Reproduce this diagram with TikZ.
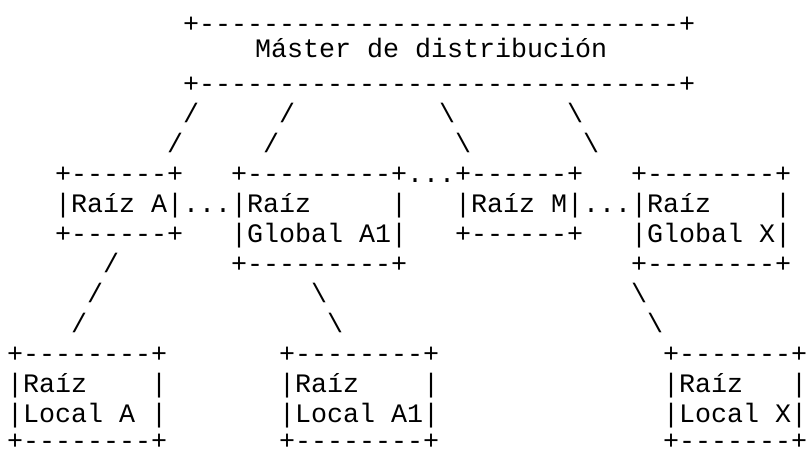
\documentclass[tikz,border=0pt]{standalone}
\usepackage{fontspec}
\newfontfamily\asciimono{Liberation Mono}[Ligatures=TeXOff]
\tikzset{asc/.style={anchor=base west, inner sep=0pt, outer sep=0pt,
  font=\asciimono\fontsize{26.67}{30}\selectfont, text=black},
  ascedge/.style={asc, text depth=0pt}}
% #1 name, #2 column, #3 row, #4 text
\newcommand\ascseg[4]{\node[asc] (#1) at ({7+16*#2},{-(32.5+30*(#3-1))}) {#4};}
\newcommand\ascbottom[3]{\node[ascedge] (#1) at ({7+16*#2},-449.5) {#3};}
\newcommand\bs{\textbackslash}
\begin{document}
\begin{tikzpicture}[x=1pt,y=1pt]
\fill[white] (0,0) rectangle (808,-450);
\useasboundingbox (0,0) rectangle (808,-450);
% master box
\ascseg{mtop}{11}{1}{+------------------------------+}
\node[asc] (mtext) at (255,-57) {Máster de distribución};
\ascseg{mbot}{11}{3}{+------------------------------+}
% links from master
\ascseg{la1}{11}{4}{/}
\ascseg{lb1}{17}{4}{/}
\ascseg{lc1}{27}{4}{\bs}
\ascseg{ld1}{35}{4}{\bs}
\ascseg{la2}{10}{5}{/}
\ascseg{lb2}{16}{5}{/}
\ascseg{lc2}{28}{5}{\bs}
\ascseg{ld2}{36}{5}{\bs}
% root row
\ascseg{r6a}{3}{6}{+------+}
\ascseg{r6b}{14}{6}{+---------+...+------+}
\ascseg{r6c}{39}{6}{+--------+}
\ascseg{r7a}{3}{7}{|Raíz~A|...|Raíz~~~~~|}
\ascseg{r7b}{28}{7}{|Raíz~M|...|Raíz~~~~|}
\ascseg{r8a}{3}{8}{+------+}
\ascseg{r8b}{14}{8}{|Global~A1|}
\ascseg{r8c}{28}{8}{+------+}
\ascseg{r8d}{39}{8}{|Global~X|}
\ascseg{r9a}{6}{9}{/}
\ascseg{r9b}{14}{9}{+---------+}
\ascseg{r9c}{39}{9}{+--------+}
% links to local roots
\ascseg{r10a}{5}{10}{/}
\ascseg{r10b}{19}{10}{\bs}
\ascseg{r10c}{39}{10}{\bs}
\ascseg{r11a}{4}{11}{/}
\ascseg{r11b}{20}{11}{\bs}
\ascseg{r11c}{40}{11}{\bs}
% local roots
\ascseg{b12a}{0}{12}{+--------+}
\ascseg{b12b}{17}{12}{+--------+}
\ascseg{b12c}{41}{12}{+-------+}
\ascseg{b13a}{0}{13}{|Raíz~~~~|}
\ascseg{b13b}{17}{13}{|Raíz~~~~|}
\ascseg{b13c}{41}{13}{|Raíz~~~|}
\ascseg{b14a}{0}{14}{|Local~A~|}
\ascseg{b14b}{17}{14}{|Local~A1|}
\ascseg{b14c}{41}{14}{|Local~X|}
\ascbottom{b15a}{0}{+--------+}
\ascbottom{b15b}{17}{+--------+}
\ascbottom{b15c}{41}{+-------+}
\end{tikzpicture}
\end{document}
